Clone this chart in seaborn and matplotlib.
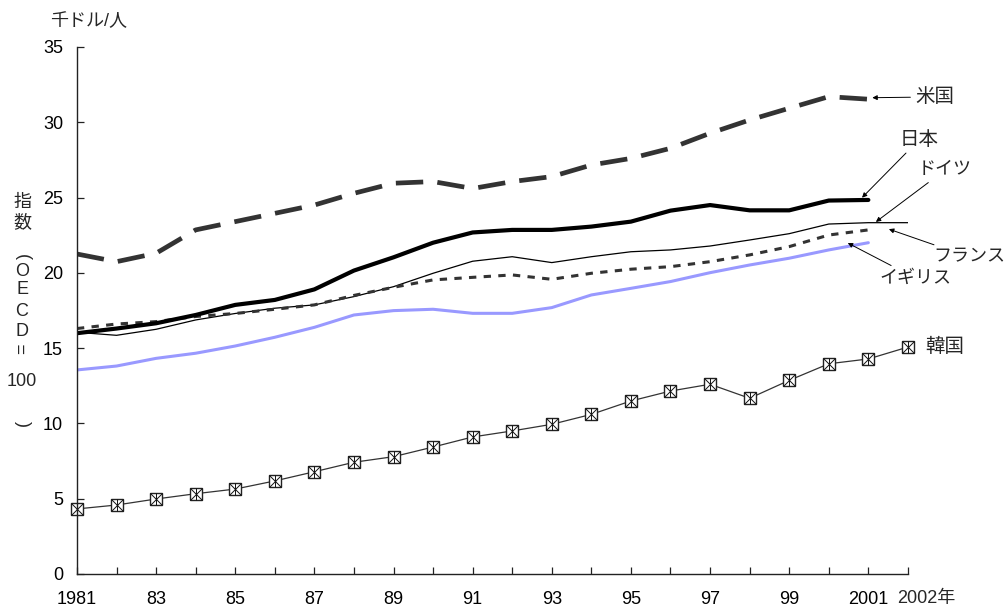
import matplotlib
matplotlib.use("Agg")
import matplotlib.pyplot as plt
import seaborn as sns

# ---- data ----
years = list(range(1981, 2003))
usa = [21.25, 20.74, 21.3, 22.85, 23.4, 23.95, 24.5, 25.28, 25.95, 26.06, 25.6,
       26.06, 26.39, 27.16, 27.6, 28.27, 29.27, 30.15, 30.93, 31.7, 31.53]
japan = [15.99, 16.3, 16.65, 17.2, 17.87, 18.2, 18.9, 20.15, 21.03, 22.0, 22.68,
         22.85, 22.85, 23.07, 23.4, 24.13, 24.5, 24.15, 24.15, 24.8, 24.84]
germany = [16.05, 15.85, 16.25, 16.87, 17.3, 17.65, 17.87, 18.42, 19.08, 19.97, 20.77,
           21.07, 20.68, 21.07, 21.4, 21.52, 21.78, 22.18, 22.6, 23.24, 23.33, 23.33]
france = [16.3, 16.6, 16.76, 17.1, 17.3, 17.58, 17.87, 18.5, 19.04, 19.53, 19.7,
          19.86, 19.57, 19.97, 20.24, 20.41, 20.74, 21.19, 21.74, 22.51, 22.85]
uk = [13.55, 13.81, 14.32, 14.66, 15.14, 15.72, 16.38, 17.2, 17.49, 17.58, 17.31,
      17.31, 17.69, 18.53, 18.97, 19.42, 20.01, 20.52, 20.97, 21.52, 22.0]
korea = [4.32, 4.58, 4.98, 5.33, 5.64, 6.18, 6.79, 7.42, 7.79, 8.43, 9.10,
         9.50, 9.94, 10.6, 11.49, 12.15, 12.6, 11.67, 12.86, 13.96, 14.28, 15.07]

xtick_labels = ["1981", "", "83", "", "85", "", "87", "", "89", "", "91", "",
                "93", "", "95", "", "97", "", "99", "", "2001", ""]
yticks = [0, 5, 10, 15, 20, 25, 30, 35]
series_names = {"usa": "米国", "japan": "日本", "germany": "ドイツ",
                "france": "フランス", "uk": "イギリス", "korea": "韓国"}

sns.set_theme(style="white")
plt.rcParams["font.family"] = ["Liberation Sans", "Noto Sans CJK JP", "DejaVu Sans"]

fig = plt.figure(figsize=(10.06, 6.09), dpi=100)
ax = fig.add_axes([0.0765, 0.0575, 0.826, 0.8654])

sns.lineplot(x=years[:len(usa)], y=usa, ax=ax, color="#333333", lw=3.4,
             linestyle=(0, (5.8, 3.0)))
sns.lineplot(x=years[:len(germany)], y=germany, ax=ax, color="black", lw=0.9)
sns.lineplot(x=years[:len(france)], y=france, ax=ax, color="#333333", lw=2.2,
             linestyle=(0, (2.4, 2.4)))
sns.lineplot(x=years[:len(uk)], y=uk, ax=ax, color="#9999FF", lw=2.2)
sns.lineplot(x=years[:len(japan)], y=japan, ax=ax, color="black", lw=3.0)
sns.lineplot(x=years[:len(korea)], y=korea, ax=ax, color="#333333", lw=0.9,
             marker="s", markersize=8.5, markerfacecolor="white",
             markeredgecolor="#222222", markeredgewidth=1.0, clip_on=False)
ax.plot(years[:len(korea)], korea, ls="none", marker="x", markersize=8.5,
        color="#111111", markeredgewidth=0.7, clip_on=False)
ax.plot(years[:len(korea)], korea, ls="none", marker="|", markersize=8.5,
        color="#111111", markeredgewidth=0.7, clip_on=False)

ax.set_xlim(1981, 2002)
ax.set_ylim(0, 35)
ax.set_xticks(years)
ax.set_xticklabels(xtick_labels)
ax.set_yticks(yticks)
ax.set_yticklabels([str(v) for v in yticks])
ax.tick_params(axis="x", direction="in", length=5, width=0.9, color="#222222",
               pad=12, labelsize=13, labelcolor="black")
ax.tick_params(axis="y", direction="in", length=5, width=0.9, color="#222222",
               pad=10, labelsize=13, labelcolor="black")
ax.tick_params(bottom=True, left=True)
for s in ["top", "right"]:
    ax.spines[s].set_visible(False)
for s in ["left", "bottom"]:
    ax.spines[s].set_color("#222222")
    ax.spines[s].set_linewidth(1.0)
ax.set_xlabel("")
ax.set_ylabel("")

# last x tick label with unit
ax.annotate("2002年", xy=(2002, 0), xycoords=("data", "axes fraction"),
            xytext=(-11, -16), textcoords="offset pixels", ha="left", va="top",
            fontsize=13, annotation_clip=False)

# unit label
fig.text(50 / 1006, 1 - 22 / 609, "千ドル/人", fontsize=13, ha="left", va="center")

# stray vertical axis label
stack = [("指", 202, 0), ("数", 223, 0), ("(", 257, -90), ("O", 272, 0), ("E", 290, 0),
         ("C", 311, 0), ("D", 332, 0), ("=", 349, 90), ("100", 382, 0), (")", 424, -90)]
for ch, py, rot in stack:
    fig.text(22 / 1006, 1 - py / 609, ch, fontsize=13, ha="center", va="center",
             rotation=rot)

arrow = dict(arrowstyle="-|>", color="black", lw=0.7, mutation_scale=7,
             shrinkA=1, shrinkB=0)
ax.annotate(series_names["usa"], xy=(2001.1, usa[-1] + 0.1), xytext=(2002.18, 31.68),
            ha="left", va="center", fontsize=14, arrowprops=arrow,
            annotation_clip=False)
ax.annotate(series_names["japan"], xy=(2000.84, japan[-1] + 0.15), xytext=(2002.28, 28.83),
            ha="center", va="center", fontsize=14, arrowprops=arrow,
            annotation_clip=False)
ax.annotate(series_names["germany"], xy=(2001.19, germany[-2] + 0.05), xytext=(2002.94, 26.83),
            ha="center", va="center", fontsize=13, arrowprops=arrow,
            annotation_clip=False)
ax.annotate(series_names["france"], xy=(2001.52, france[-1] + 0.05), xytext=(2003.55, 21.05),
            ha="center", va="center", fontsize=13, arrowprops=arrow,
            annotation_clip=False)
ax.annotate(series_names["uk"], xy=(2000.48, uk[-1] - 0.02), xytext=(2002.18, 19.66),
            ha="center", va="center", fontsize=13, arrowprops=arrow,
            annotation_clip=False)
ax.text(2002.43, korea[-1], series_names["korea"], ha="left", va="center",
        fontsize=14)

fig.savefig("out.png", dpi=100)
